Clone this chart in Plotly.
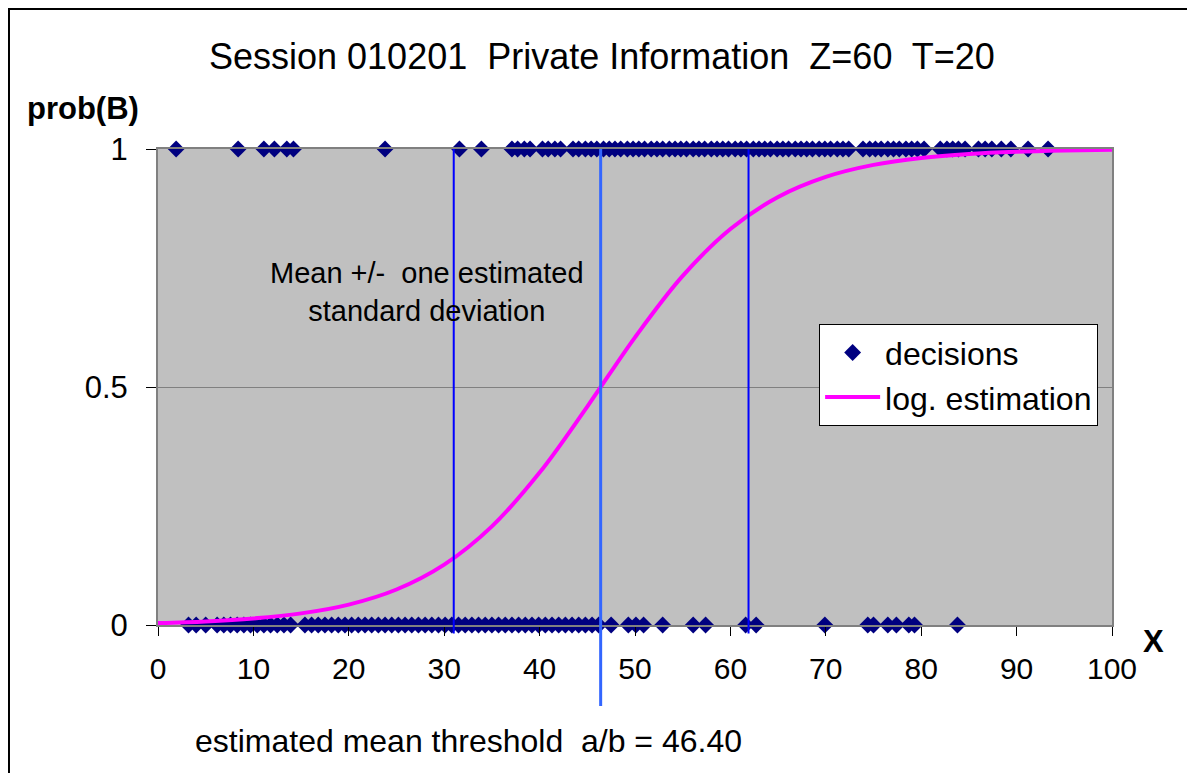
import plotly.graph_objects as go

# ---- data ----
x_buy = [1.9, 8.4, 11.1, 12.2, 13.5, 14.2, 23.8, 31.6, 33.9,
         37.1, 37.7, 38.4, 39.0, 40.3, 40.9, 41.6, 42.2, 43.5, 44.1, 44.8, 45.4,
         46.0, 46.7, 47.3, 47.9, 48.5, 49.2, 49.8, 50.4, 51.0, 51.7, 52.3, 52.9,
         53.6, 54.2, 54.8, 55.4, 56.1, 56.7, 57.3, 58.0, 58.6, 59.2, 59.8, 60.5,
         61.1, 61.7, 62.4, 63.0, 63.6, 64.2, 64.9, 65.5, 66.1, 66.8, 67.4, 68.0,
         68.6, 69.3, 69.9, 70.5, 71.2, 71.8, 72.4, 73.9, 74.6, 75.2, 75.8, 76.5,
         77.1, 77.7, 78.4, 79.0, 79.6, 80.3, 82.0, 82.7, 83.3, 83.9, 84.6, 86.0,
         86.7, 87.4, 88.4, 89.4, 91.2, 93.3]
x_sell = [3.2, 4.0, 5.0, 6.2, 6.9, 7.6, 8.3, 9.0, 9.7, 10.4, 11.1, 11.8, 12.5,
          13.2, 13.9, 15.4, 16.1, 16.8, 17.5, 18.2, 18.9, 19.6, 20.3, 21.0, 21.7,
          22.4, 23.1, 23.8, 24.5, 25.2, 25.9, 26.6, 27.3, 28.0, 28.7, 29.4, 30.1,
          30.8, 31.5, 32.2, 32.9, 33.6, 34.3, 35.0, 35.7, 36.4, 37.1, 37.8, 38.5,
          39.2, 39.9, 40.6, 41.3, 42.0, 42.7, 43.4, 44.1, 44.8, 45.5, 46.2,
          47.5, 49.3, 50.1, 50.9, 52.9, 56.1, 57.4, 61.6, 62.7, 69.9, 74.4, 75.0,
          76.5, 77.4, 78.7, 79.3, 83.8]
curve_x = [0, 5, 10, 15, 20, 25, 30, 35, 40, 45, 50, 55, 60, 65, 70, 75, 80, 85, 90, 95, 100]
curve_y = [0.0042, 0.0076, 0.0138, 0.0244, 0.0429, 0.0746, 0.1269, 0.2073, 0.3202,
           0.4589, 0.6044, 0.7334, 0.832, 0.8992, 0.9414, 0.9666, 0.9811, 0.9895,
           0.9941, 0.9967, 0.9982]
mean_threshold = 46.40
sd_low = 31.0
sd_high = 61.9
x_ticks = [0, 10, 20, 30, 40, 50, 60, 70, 80, 90, 100]
y_ticks = [0, 0.5, 1]
y_tick_labels = ["0", "0.5", "1"]

FONT = "Liberation Sans, Arial, sans-serif"

fig = go.Figure()
fig.add_trace(go.Scatter(
    x=x_buy + x_sell, y=[1] * len(x_buy) + [0] * len(x_sell),
    mode="markers", name="decisions",
    marker=dict(symbol="diamond", size=13, color="#000080", line=dict(width=0)),
    cliponaxis=False,
))
fig.add_trace(go.Scatter(
    x=curve_x, y=curve_y, mode="lines", name="log. estimation",
    line=dict(color="#FF00FF", width=4, shape="spline"),
    cliponaxis=False,
))

# vertical lines (y in paper units so they can extend below the axis)
fig.add_shape(type="line", xref="x", yref="paper", x0=sd_low, x1=sd_low, y0=-0.018, y1=1,
              line=dict(color="#0000FF", width=2), layer="above")
fig.add_shape(type="line", xref="x", yref="paper", x0=sd_high, x1=sd_high, y0=-0.018, y1=1,
              line=dict(color="#0000FF", width=2), layer="above")
fig.add_shape(type="line", xref="x", yref="paper", x0=mean_threshold, x1=mean_threshold,
              y0=-0.17, y1=1, line=dict(color="#3366FF", width=3), layer="above")

# outer frame
fig.add_shape(type="rect", xref="paper", yref="paper",
              x0=-0.1562, x1=1.2, y0=-0.5, y1=1.294,
              line=dict(color="black", width=2), fillcolor="rgba(0,0,0,0)", layer="below")

def note(text, x, y, size, xref="paper", yref="paper"):
    fig.add_annotation(text=text, xref=xref, yref=yref, x=x, y=y,
                       xanchor="center", yanchor="middle", showarrow=False,
                       font=dict(family=FONT, size=size, color="black"))

note("Session 010201  Private Information  Z=60  T=20", 0.465, 1.195, 36)
note("<b>prob(B)</b>", -0.0786, 1.086, 31)
note("<b>X</b>", 1.043, -0.034, 31)
note("Mean +/-  one estimated<br>standard deviation", 28.2, 0.70, 29, "x", "y")
note("estimated mean threshold  a/b = 46.40", 0.325, -0.244, 32)

fig.update_layout(
    width=1195, height=773,
    margin=dict(l=150, r=91, t=141, b=156),
    paper_bgcolor="white", plot_bgcolor="#C0C0C0",
    font=dict(family=FONT, size=31, color="black"),
    showlegend=True,
    legend=dict(x=0.693, y=0.632, xanchor="left", yanchor="top",
                bgcolor="white", bordercolor="black", borderwidth=1,
                font=dict(family=FONT, size=32), itemwidth=55,
                tracegroupgap=0),
    xaxis=dict(range=[0, 100], tickvals=x_ticks, ticks="outside", ticklen=9,
               tickcolor="black", showgrid=False, zeroline=False,
               showline=True, linecolor="#808080", linewidth=2, mirror=True,
               ticklabelstandoff=7,
               tickfont=dict(family=FONT, size=30)),
    yaxis=dict(range=[0, 1], tickvals=y_ticks, ticktext=y_tick_labels,
               ticks="outside", ticklen=10, tickcolor="black",
               showgrid=True, gridcolor="#808080", gridwidth=1, zeroline=False,
               showline=True, linecolor="#808080", linewidth=2, mirror=True,
               ticklabelstandoff=12,
               tickfont=dict(family=FONT, size=31)),
)

fig.write_html("out.html")
